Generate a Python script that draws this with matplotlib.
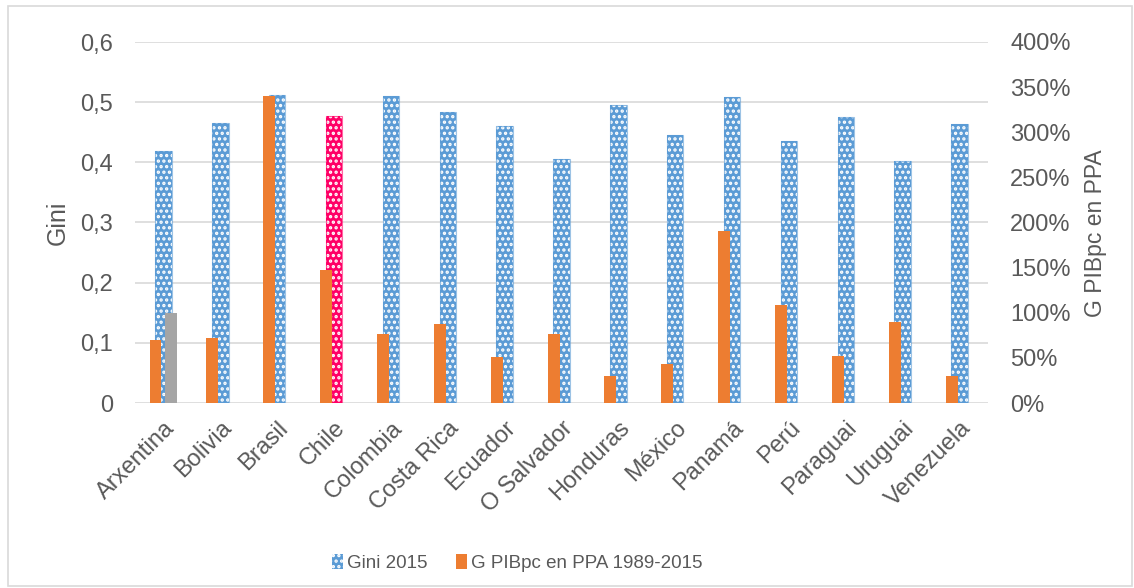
import numpy as np
import matplotlib
matplotlib.use("Agg")
import matplotlib.pyplot as plt
from matplotlib.patches import Rectangle, Patch
from matplotlib.ticker import FuncFormatter

paises = ["Arxentina", "Bolivia", "Brasil", "Chile", "Colombia", "Costa Rica",
          "Ecuador", "O Salvador", "Honduras", "México", "Panamá", "Perú",
          "Paraguai", "Uruguai", "Venezuela"]
gini_2015 = [0.419, 0.466, 0.512, 0.477, 0.511, 0.483, 0.460, 0.405, 0.496,
             0.446, 0.508, 0.435, 0.475, 0.402, 0.464]
# crecemento PIBpc en PPA 1989-2015 (eixo dereito, 1 = 100%)
g_pibpc = [0.70, 0.72, 3.40, 1.47, 0.76, 0.88, 0.51, 0.76, 0.30, 0.43,
           1.91, 1.09, 0.52, 0.90, 0.30]
# serie gris (só Arxentina)
serie_gris = [0.150] + [np.nan] * 14

plt.rcParams['font.family'] = ['Liberation Sans', 'DejaVu Sans']
gris_txt = '#595959'
azul = '#5B9BD5'
vermello = '#FF0066'
laranxa = '#ED7D31'
plt.rcParams['hatch.linewidth'] = 1.6

fig = plt.figure(figsize=(11.34, 5.88), dpi=100)
ax = fig.add_axes([135/1134, 1-403/588, (988-135)/1134, (403-42)/588])
ax2 = ax.twinx()

x = np.arange(len(paises))
cores = [vermello if p == "Chile" else azul for p in paises]
barras = ax.bar(x, gini_2015, width=0.29, color=cores, edgecolor='white',
                hatch='...', linewidth=0, zorder=2)
for b, c in zip(barras, cores):
    ax.add_patch(Rectangle(b.get_xy(), b.get_width(), b.get_height(),
                           fill=False, edgecolor=c, linewidth=0.8, alpha=0.6, zorder=3))
ax.bar(x + 0.14, serie_gris, width=0.21, color='#A5A5A5', zorder=4)
ax2.bar(x - 0.14, g_pibpc, width=0.21, color=laranxa, zorder=5)

ax.set_xlim(-0.5, len(paises) - 0.5)
ax.set_ylim(0, 0.6)
ax2.set_ylim(0, 4)
ax.set_yticks(np.arange(0, 0.61, 0.1))
ax.yaxis.set_major_formatter(FuncFormatter(lambda v, p: "0" if v == 0 else f"{v:.1f}".replace(".", ",")))
ax2.set_yticks(np.arange(0, 4.01, 0.5))
ax2.yaxis.set_major_formatter(FuncFormatter(lambda v, p: f"{v*100:.0f}%"))

ax.grid(axis='y', color='#D9D9D9', linewidth=1.2, zorder=0)
ax.set_axisbelow(True)
for a in (ax, ax2):
    for s in a.spines.values():
        s.set_visible(False)
    a.tick_params(length=0, colors=gris_txt, labelsize=17)
ax.tick_params(axis='y', pad=16)
ax2.tick_params(axis='y', pad=16)

ax.set_xticks(x)
ax.set_xticklabels(paises, rotation=45, ha='right', rotation_mode='anchor')
ax.tick_params(axis='x', pad=10)

ax.set_ylabel("Gini", fontsize=18, color=gris_txt)
ax.yaxis.set_label_coords(-0.077, 0.5)
ax2.set_ylabel("G PIBpc en PPA", fontsize=16.5, color=gris_txt)
ax2.yaxis.set_label_coords(1.113, 0.47)

h1 = Patch(facecolor=azul, edgecolor='white', hatch='...', linewidth=0)
h2 = Patch(facecolor=laranxa)
fig.legend([h1, h2], ["Gini 2015", "G PIBpc en PPA 1989-2015"], loc='center',
           bbox_to_anchor=(517/1134, 1-563/588), ncol=2, frameon=False,
           fontsize=13.5, labelcolor=gris_txt, handlelength=0.6, handleheight=0.9,
           handletextpad=0.2, columnspacing=1.5)

fig.patches.append(Rectangle((8/1134, 1-586/588), 1124/1134, 580/588, transform=fig.transFigure,
                             fill=False, edgecolor='#D9D9D9', linewidth=1.2))

fig.savefig("out.png", dpi=100)
